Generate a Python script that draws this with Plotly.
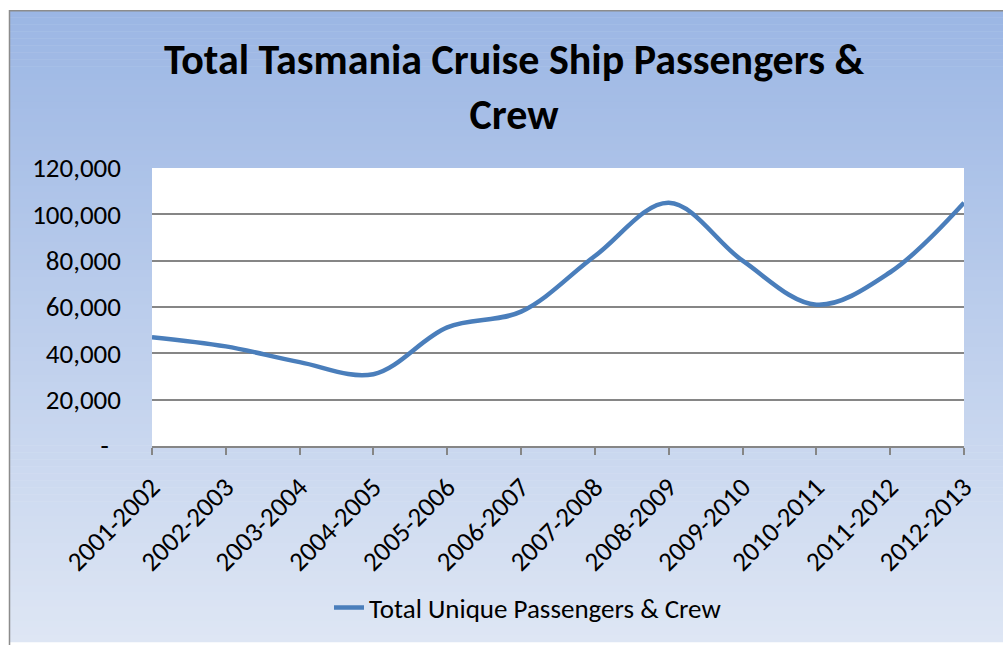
import plotly.graph_objects as go

# ---- data ----
seasons = ["2001-2002", "2002-2003", "2003-2004", "2004-2005", "2005-2006", "2006-2007",
           "2007-2008", "2008-2009", "2009-2010", "2010-2011", "2011-2012", "2012-2013"]
passengers_crew = [47000, 43000, 36200, 31000, 51200, 58000,
                   82000, 105000, 80000, 61000, 75000, 105000]
y_tickvals = [0, 20000, 40000, 60000, 80000, 100000, 120000]
y_ticktext = ["-\u00a0\u00a0", "20,000", "40,000", "60,000", "80,000", "100,000", "120,000"]

W, H = 1003, 645
L, R, T, B = 152, 964, 168, 448  # plot area in pixels
pw, ph = R - L, B - T

def px_x(p):
    return (p - L) / pw

def px_y(p):
    return (B - p) / ph

FONT = "Carlito, Calibri, Lato, sans-serif"

fig = go.Figure()
fig.add_trace(go.Scatter(
    x=seasons, y=passengers_crew, mode="lines",
    line=dict(color="#4A7EBB", width=4.5, shape="spline", smoothing=1.0),
    name="Total Unique Passengers & Crew",
))

shapes = []
# gradient background of chart area (bands)
top_c = (155, 182, 228)
bot_c = (222, 230, 244)
y_start, y_end = 9, 645
n = 90
for i in range(n):
    a = y_start + (y_end - y_start) * i / n
    b = y_start + (y_end - y_start) * (i + 1) / n
    t = (i + 0.5) / n
    c = tuple(round(top_c[k] + (bot_c[k] - top_c[k]) * t) for k in range(3))
    shapes.append(dict(type="rect", xref="paper", yref="paper", layer="below",
                       x0=px_x(9), x1=px_x(W + 5), y0=px_y(a), y1=px_y(b + 0.6),
                       fillcolor="rgb(%d,%d,%d)" % c, line=dict(width=0)))
# border of chart area
shapes.append(dict(type="rect", xref="paper", yref="paper", layer="below",
                   x0=px_x(9.5), x1=px_x(W + 5), y0=px_y(9.5), y1=px_y(H + 5),
                   fillcolor="rgba(0,0,0,0)", line=dict(color="#8C8C8C", width=1.5)))
# white plot area
shapes.append(dict(type="rect", xref="paper", yref="paper", layer="below",
                   x0=0, x1=1, y0=0, y1=1, fillcolor="white", line=dict(width=0)))

fig.update_layout(
    width=W, height=H,
    margin=dict(l=L, r=W - R, t=T, b=H - B),
    paper_bgcolor="white",
    plot_bgcolor="rgba(0,0,0,0)",
    shapes=shapes,
    font=dict(family=FONT, color="black"),
    title=dict(text="<b>Total Tasmania Cruise Ship Passengers &<br>Crew</b>",
               x=514 / W, xanchor="center", y=1 - 74 / H, yanchor="middle",
               yref="container", xref="container",
               font=dict(family=FONT, size=42, color="black")),
    showlegend=True,
    legend=dict(orientation="h", x=px_x(528), xanchor="center", y=px_y(611), yanchor="middle",
                font=dict(family=FONT, size=27, color="black"), bgcolor="rgba(0,0,0,0)"),
    xaxis=dict(type="category", range=[0, len(seasons) - 1], showgrid=False,
               showline=True, linecolor="#868686", linewidth=1.5,
               ticks="outside", ticklen=7, tickcolor="#868686", tickwidth=1.5,
               ticklabelstandoff=6,
               tickangle=-45, tickfont=dict(family=FONT, size=27, color="black")),
    yaxis=dict(range=[0, 120000], tickvals=y_tickvals, ticktext=y_ticktext,
               showgrid=True, gridcolor="#868686", gridwidth=1.5, zeroline=False,
               showline=False, ticks="", ticklabelstandoff=30,
               tickfont=dict(family=FONT, size=27, color="black")),
)

fig.write_html("out.html", config={"displayModeBar": False},
               post_script="document.body.style.margin='0';document.body.style.overflow='hidden';")
